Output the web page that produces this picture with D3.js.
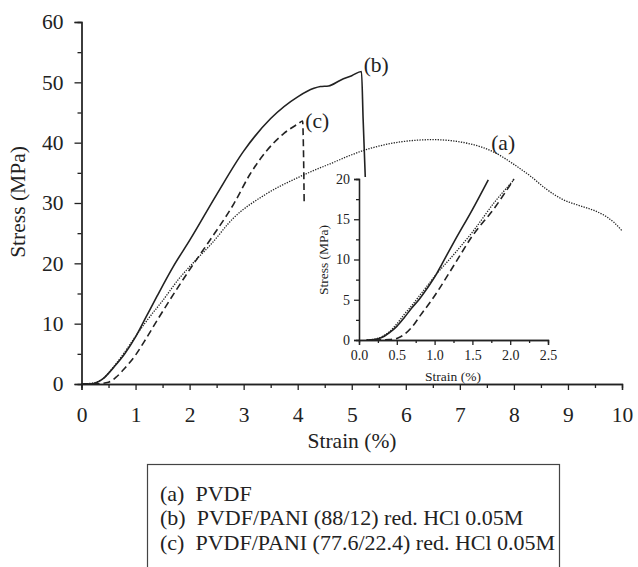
<!DOCTYPE html>
<html><head><meta charset="utf-8">
<script src="https://cdn.jsdelivr.net/npm/d3@7"></script>
<style>
html,body{margin:0;padding:0;background:#fff;}
svg{display:block;}
svg text{font-family:"Liberation Serif","Times New Roman",Times,Tinos,"Nimbus Roman","Noto Serif","DejaVu Serif",serif !important;fill:#222;}
</style></head>
<body>
<svg id="chart" width="638" height="567"></svg>
<script>
// ---- Data (main panel) ----
const strainPVDF = [0,0.2,0.4,0.6,0.8,1.0,1.2,1.5,1.8,2.1,2.4,2.8,3.4,4.0,4.6,5.25,5.96,6.5,7.19,7.68,8.0,8.3,8.6,8.9,9.2,9.5,9.7,9.85,10.0];
const stressPVDF = [0,0.15,0.9,2.9,5.3,7.9,10.4,13.8,17.4,20.4,23.2,27.4,31.4,34.2,36.5,38.8,40.2,40.5,39.8,38.2,36.4,34.5,32.3,30.6,29.6,28.7,27.8,26.8,25.4];

const strainPANI12 = [0,0.2,0.4,0.6,0.8,1.0,1.2,1.4,1.7,2.0,2.5,3.0,3.5,4.0,4.3,4.42,4.57,4.8,5.0,5.18,5.21,5.25];
const stressPANI12 = [0,0.05,0.9,2.8,5.0,7.8,11.2,14.6,19.5,23.8,31.4,38.6,44.0,47.6,49.0,49.3,49.4,50.4,51.1,51.8,44.0,34.3];

const strainPANI22 = [0,0.3,0.5,0.65,0.8,1.0,1.2,1.43,1.74,2.05,2.35,2.82,3.12,3.43,3.74,4.02,4.09,4.11,4.12];
const stressPANI22 = [0,0.05,0.3,1.2,2.6,4.8,7.6,11.0,15.4,19.6,23.5,29.9,34.8,38.7,41.5,43.2,43.6,37.0,29.8];

// ---- Data (inset, initial region) ----
const insetStrainPVDF = [0.1,0.2,0.3,0.4,0.5,0.6,0.7,0.8,0.9,1.0,1.27,1.5,1.8,2.04];
const insetStressPVDF = [0,0.1,0.4,1.0,2.0,3.2,4.3,5.5,6.7,7.9,10.8,13.4,17.2,19.8];
const insetStrainPANI12 = [0.1,0.2,0.3,0.4,0.5,0.6,0.7,0.8,0.9,1.0,1.1,1.27,1.5,1.71];
const insetStressPANI12 = [0,0.05,0.3,0.9,1.7,2.8,4.0,5.1,6.4,7.8,9.5,12.4,16.2,19.9];
const insetStrainPANI22 = [0.2,0.4,0.5,0.6,0.7,0.83,0.95,1.05,1.27,1.49,1.8,2.05];
const insetStressPANI22 = [0,0.05,0.2,0.7,1.6,3.3,4.8,6.2,9.5,12.8,16.5,20];

const mainXTicks = [0,1,2,3,4,5,6,7,8,9,10];
const mainYTicks = [0,10,20,30,40,50,60];
const insetXTicks = [0,0.5,1.0,1.5,2.0,2.5];
const insetYTicks = [0,5,10,15,20];
const curveLabels = ["(a)","(b)","(c)"];
const legendItems = ["(a)  PVDF","(b)  PVDF/PANI (88/12) red. HCl 0.05M","(c)  PVDF/PANI (77.6/22.4) red. HCl 0.05M"];

const zip = (xs, ys) => xs.map((v,i)=>[v, ys[i]]);

const svg = d3.select("#chart");
const ink = "#222";

// ---- Main panel ----
const x = d3.scaleLinear().domain([0,10]).range([81.5,622]);
const y = d3.scaleLinear().domain([0,60]).range([384,22]);

function styleAxis(g){
  g.attr("font-family", null);
  g.select(".domain").attr("stroke", ink).attr("stroke-width",1.3);
  g.selectAll(".tick line").attr("stroke", ink).attr("stroke-width",1.3);
}

// minor ticks
svg.append("g").attr("transform","translate(0,384)")
  .call(d3.axisBottom(x).tickValues(d3.range(0.5,10,1)).tickSize(4).tickFormat(""))
  .call(styleAxis);
svg.append("g").attr("transform","translate(81.5,0)")
  .call(d3.axisLeft(y).tickValues(d3.range(5,60,10)).tickSize(4).tickFormat(""))
  .call(styleAxis);

const gx = svg.append("g").attr("transform","translate(0,384)")
  .call(d3.axisBottom(x).tickValues(mainXTicks).tickSize(6).tickPadding(17).tickFormat(d3.format("d")))
  .call(styleAxis);
gx.selectAll("text").attr("font-size",21.5).attr("fill",ink);

const gy = svg.append("g").attr("transform","translate(81.5,0)")
  .call(d3.axisLeft(y).tickValues(mainYTicks).tickSize(7).tickPadding(11).tickFormat(d3.format("d")))
  .call(styleAxis);
gy.selectAll("text").attr("font-size",21.5).attr("fill",ink);

svg.append("text").attr("x",352).attr("y",448).attr("text-anchor","middle")
  .attr("font-size",21.5).text("Strain (%)");
svg.append("text").attr("transform","translate(25,202) rotate(-90)").attr("text-anchor","middle")
  .attr("font-size",21.5).text("Stress (MPa)");

const line = d3.line().x(d=>x(d[0])).y(d=>y(d[1])).curve(d3.curveMonotoneX);

svg.append("path").datum(zip(strainPVDF,stressPVDF)).attr("d",line)
  .attr("fill","none").attr("stroke",ink).attr("stroke-width",1.3).attr("stroke-dasharray","1.3,1.3");
svg.append("path").datum(zip(strainPANI12,stressPANI12)).attr("d",line)
  .attr("fill","none").attr("stroke",ink).attr("stroke-width",1.6);
svg.append("path").datum(zip(strainPANI22,stressPANI22)).attr("d",line)
  .attr("fill","none").attr("stroke",ink).attr("stroke-width",1.6).attr("stroke-dasharray","7,4");

// curve labels placed near curve ends / peaks
const labelPos = [[7.58,40.0],[5.22,53.0],[4.14,43.6]];
svg.selectAll(".clab").data(curveLabels).join("text").attr("class","clab")
  .attr("x",(d,i)=>x(labelPos[i][0])).attr("y",(d,i)=>y(labelPos[i][1]))
  .attr("dy","0.35em").attr("font-size",21.5).text(d=>d);

// ---- Inset ----
const xi = d3.scaleLinear().domain([0,2.5]).range([359,548]);
const yi = d3.scaleLinear().domain([0,20]).range([340,179]);

svg.append("g").attr("transform","translate(0,340)")
  .call(d3.axisBottom(xi).tickValues(d3.range(0.25,2.5,0.5)).tickSize(3).tickFormat(""))
  .call(styleAxis);
svg.append("g").attr("transform","translate(359,0)")
  .call(d3.axisLeft(yi).tickValues(d3.range(2.5,20,5)).tickSize(3).tickFormat(""))
  .call(styleAxis);
const gxi = svg.append("g").attr("transform","translate(0,340)")
  .call(d3.axisBottom(xi).tickValues(insetXTicks).tickSize(5).tickPadding(5).tickFormat(d3.format(".1f")))
  .call(styleAxis);
gxi.selectAll("text").attr("font-size",14).attr("fill",ink);
const gyi = svg.append("g").attr("transform","translate(359,0)")
  .call(d3.axisLeft(yi).tickValues(insetYTicks).tickSize(5).tickPadding(4).tickFormat(d3.format("d")))
  .call(styleAxis);
gyi.selectAll("text").attr("font-size",14).attr("fill",ink);

svg.append("text").attr("x",453).attr("y",381).attr("text-anchor","middle")
  .attr("font-size",13.5).text("Strain (%)");
svg.append("text").attr("transform","translate(328,260) rotate(-90)").attr("text-anchor","middle")
  .attr("font-size",13.5).text("Stress (MPa)");

const linei = d3.line().x(d=>xi(d[0])).y(d=>yi(d[1])).curve(d3.curveMonotoneX);
svg.append("path").datum(zip(insetStrainPVDF,insetStressPVDF)).attr("d",linei)
  .attr("fill","none").attr("stroke",ink).attr("stroke-width",1.3).attr("stroke-dasharray","1.3,1.3");
svg.append("path").datum(zip(insetStrainPANI12,insetStressPANI12)).attr("d",linei)
  .attr("fill","none").attr("stroke",ink).attr("stroke-width",1.6);
svg.append("path").datum(zip(insetStrainPANI22,insetStressPANI22)).attr("d",linei)
  .attr("fill","none").attr("stroke",ink).attr("stroke-width",1.6).attr("stroke-dasharray","7,4");

// ---- Legend ----
svg.append("rect").attr("x",147.5).attr("y",464.5).attr("width",412).attr("height",110)
  .attr("fill","none").attr("stroke","#444").attr("stroke-width",1.2);
svg.selectAll(".leg").data(legendItems).join("text").attr("class","leg")
  .attr("x",160).attr("y",(d,i)=>493+i*24.5).attr("dy","0.35em")
  .attr("font-size",22).attr("xml:space","preserve").style("white-space","pre").text(d=>d);
</script>
</body></html>
